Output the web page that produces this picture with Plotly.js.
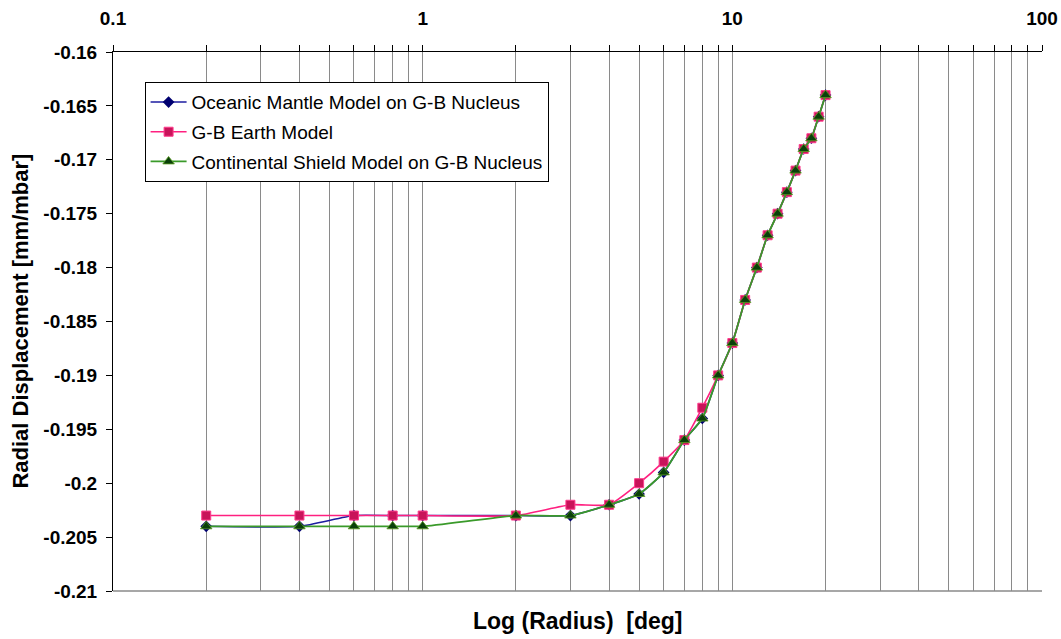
<!DOCTYPE html>
<html>
<head>
<meta charset="utf-8">
<script src="https://cdn.plot.ly/plotly-3.0.1.min.js"></script>
<style>html,body{margin:0;padding:0;background:#fff;}#chart{width:1061px;height:639px;}</style>
</head>
<body>
<div id="chart"></div>
<script>
// Radius [deg]
var radius = [0.2, 0.4, 0.6, 0.8, 1, 2, 3, 4, 5, 6, 7, 8, 9, 10, 11, 12, 13, 14, 15, 16, 17, 18, 19, 20];
// Radial displacement [mm/mbar]
var oceanic = [-0.204, -0.204, -0.203, -0.203, -0.203, -0.203, -0.203, -0.202, -0.201, -0.199, -0.196, -0.194, -0.190,
               -0.187, -0.183, -0.180, -0.177, -0.175, -0.173, -0.171, -0.169, -0.168, -0.166, -0.164];
var gbEarth = [-0.203, -0.203, -0.203, -0.203, -0.203, -0.203, -0.202, -0.202, -0.200, -0.198, -0.196, -0.193, -0.190,
               -0.187, -0.183, -0.180, -0.177, -0.175, -0.173, -0.171, -0.169, -0.168, -0.166, -0.164];
var continental = [-0.204, -0.204, -0.204, -0.204, -0.204, -0.203, -0.203, -0.202, -0.201, -0.199, -0.196, -0.194, -0.190,
               -0.187, -0.183, -0.180, -0.177, -0.175, -0.173, -0.171, -0.169, -0.168, -0.166, -0.164];
var seriesNames = ["Oceanic Mantle Model on G-B Nucleus", "G-B Earth Model", "Continental Shield Model on G-B Nucleus"];

var xTickVals = [0.1,0.2,0.3,0.4,0.5,0.6,0.7,0.8,0.9,1,2,3,4,5,6,7,8,9,10,20,30,40,50,60,70,80,90,100];
var xTickText = ["0.1","","","","","","","","","1","","","","","","","","","10","","","","","","","","","100"];
var yTickVals = [-0.21,-0.205,-0.2,-0.195,-0.19,-0.185,-0.18,-0.175,-0.17,-0.165,-0.16];
var yTickText = ["-0.21","-0.205","-0.2","-0.195","-0.19","-0.185","-0.18","-0.175","-0.17","-0.165","-0.16"];

var traces = [
  {x: radius, y: oceanic, name: seriesNames[0], legendgroup: 'a', type: 'scatter', mode: 'lines+markers',
   line: {color: '#1c1ca0', width: 1.6, shape: 'spline', smoothing: 0.5},
   marker: {symbol: 'diamond', size: 9, color: '#000070'}},
  {x: radius, y: gbEarth, name: seriesNames[1], legendgroup: 'b', type: 'scatter', mode: 'lines+markers',
   line: {color: '#ff2080', width: 1.6, shape: 'spline', smoothing: 0.5},
   marker: {symbol: 'square', size: 9, color: '#c8145a', line: {color: '#ff3c8c', width: 1}}},
  {x: radius, y: continental, name: seriesNames[2], legendgroup: 'c', type: 'scatter', mode: 'lines+markers',
   line: {color: '#3a9a2a', width: 1.8, shape: 'spline', smoothing: 0.5},
   marker: {symbol: 'triangle-up', size: 10, color: '#0a400a', line: {color: '#5a9a20', width: 0.8}}}
];

var fam = '"Liberation Sans", Arial, sans-serif';
var layout = {
  width: 1061, height: 639,
  margin: {l: 113, r: 19, t: 52, b: 48, pad: 0},
  paper_bgcolor: '#ffffff', plot_bgcolor: '#ffffff',
  showlegend: true,
  legend: {x: 0.034, y: 0.944, xanchor: 'left', yanchor: 'top',
           bgcolor: '#ffffff', bordercolor: '#000000', borderwidth: 1,
           font: {family: fam, size: 19, color: '#000'}, tracegroupgap: 2, itemwidth: 36},
  xaxis: {type: 'log', range: [-1, 2], side: 'top',
          tickvals: xTickVals, ticktext: xTickText,
          showgrid: true, gridcolor: '#8a8a8a', gridwidth: 1,
          showline: true, linecolor: '#000', linewidth: 1,
          ticks: 'outside', ticklen: 6, tickcolor: '#000', ticklabelstandoff: 12,
          tickfont: {family: fam, size: 19, color: '#000', weight: 'bold'},
          zeroline: false, fixedrange: true},
  yaxis: {range: [-0.21, -0.16], tickvals: yTickVals, ticktext: yTickText,
          showgrid: false, showline: true, linecolor: '#000', linewidth: 1,
          ticks: 'outside', ticklen: 6, tickcolor: '#000', ticklabelstandoff: 5,
          tickfont: {family: fam, size: 19, color: '#000', weight: 'bold'},
          zeroline: false, fixedrange: true},
  shapes: [
    {type: 'line', xref: 'paper', yref: 'paper', x0: 0, x1: 1, y0: 0, y1: 0,
     line: {color: '#8a8a8a', width: 1.5}}
  ],
  annotations: [
    {text: '<b>Log (Radius)  [deg]</b>', xref: 'paper', yref: 'paper', x: 0.5, y: -0.028,
     xanchor: 'center', yanchor: 'top', showarrow: false,
     font: {family: fam, size: 23, color: '#000'}},
    {text: '<b>Radial Displacement [mm/mbar]</b>', xref: 'paper', yref: 'paper', x: -0.1, y: 0.5,
     xanchor: 'center', yanchor: 'middle', showarrow: false, textangle: -90,
     font: {family: fam, size: 22, color: '#000'}}
  ]
};

Plotly.newPlot('chart', traces, layout, {displayModeBar: false, staticPlot: true});
</script>
</body>
</html>
